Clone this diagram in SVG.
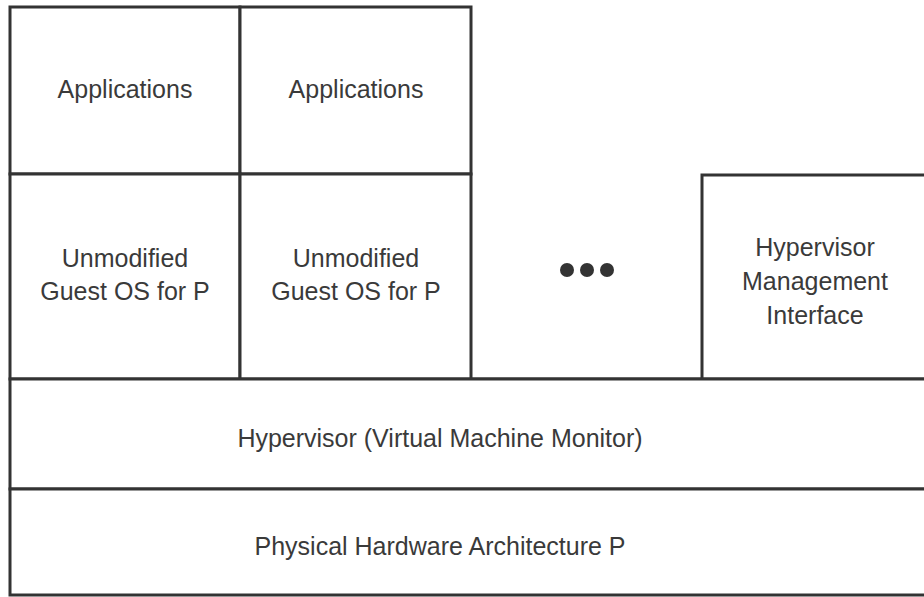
<svg xmlns="http://www.w3.org/2000/svg" width="924" height="597" viewBox="0 0 924 597">
<style>
.box{fill:#fff;stroke:#333;stroke-width:3}
.t{font-family:"Liberation Sans",Arial,sans-serif;font-size:25px;fill:#3a3a3a;text-anchor:middle}
</style>
<rect width="924" height="597" fill="#fff"/>
<g id="app1"><rect class="box" x="10" y="7" width="230" height="167"/><text class="t" x="125" y="98">Applications</text></g>
<g id="app2"><rect class="box" x="240" y="7" width="231" height="167"/><text class="t" x="356" y="98">Applications</text></g>
<g id="guest1"><rect class="box" x="10" y="174" width="230" height="205"/><text class="t" x="125" y="267">Unmodified</text><text class="t" x="125" y="300">Guest OS for P</text></g>
<g id="guest2"><rect class="box" x="240" y="174" width="231" height="205"/><text class="t" x="356" y="267">Unmodified</text><text class="t" x="356" y="300">Guest OS for P</text></g>
<g id="more"><line x1="471" y1="379" x2="702" y2="379" stroke="#333" stroke-width="3"/>
<circle cx="567" cy="270" r="7" fill="#333"/><circle cx="587" cy="270" r="7" fill="#333"/><circle cx="607" cy="270" r="7" fill="#333"/></g>
<g id="mgmt"><rect class="box" x="702" y="175" width="226" height="204"/><text class="t" x="815" y="256">Hypervisor</text><text class="t" x="815" y="290">Management</text><text class="t" x="815" y="324">Interface</text></g>
<g id="hypervisor"><rect class="box" x="10" y="379" width="918" height="110"/><text class="t" x="440" y="447">Hypervisor (Virtual Machine Monitor)</text></g>
<g id="hardware"><rect class="box" x="10" y="489" width="918" height="106"/><text class="t" x="440" y="555">Physical Hardware Architecture P</text></g>
<g id="connectors"/>
</svg>
